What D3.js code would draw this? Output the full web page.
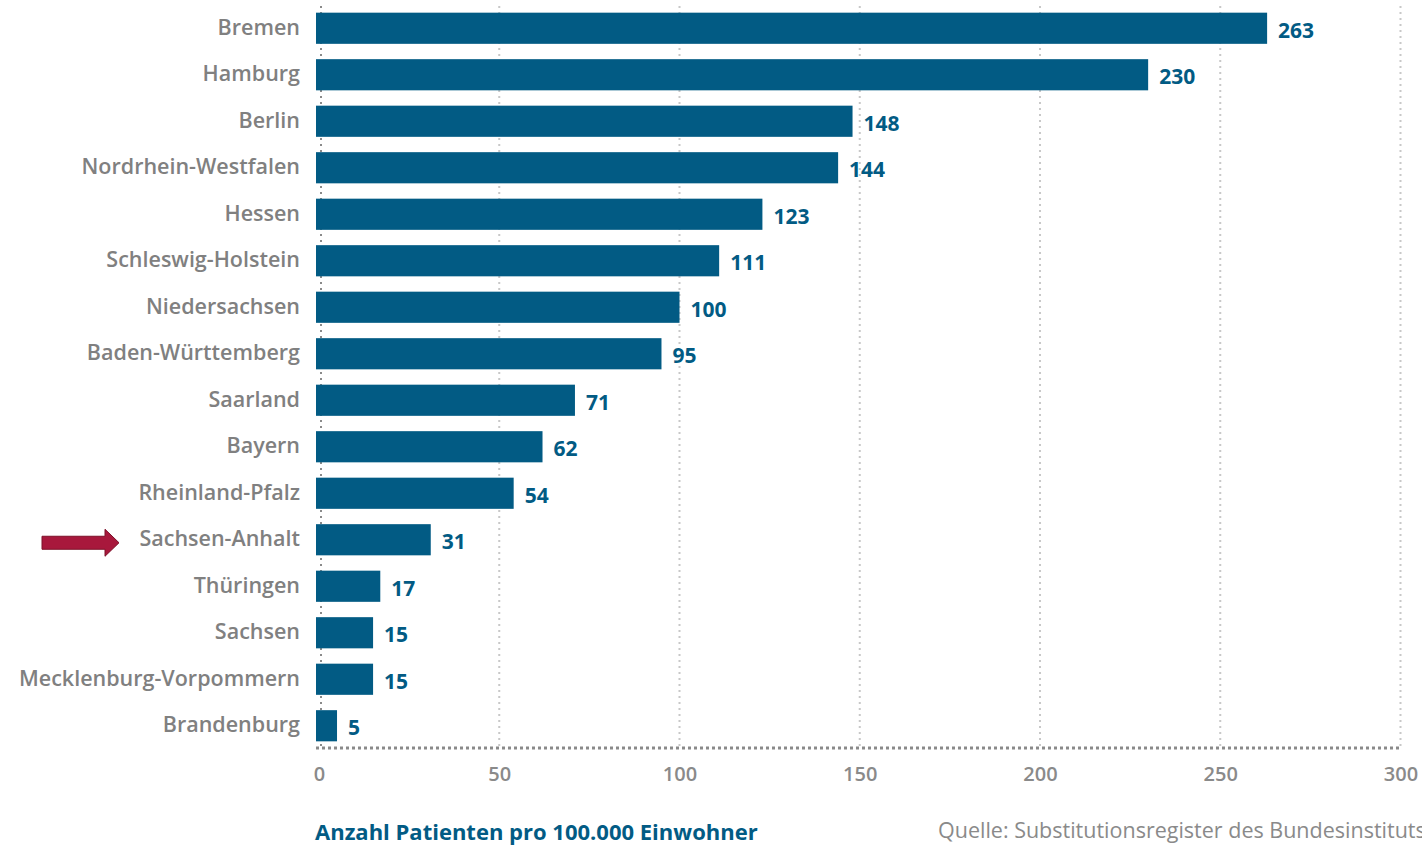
<!DOCTYPE html>
<html>
<head>
<meta charset="utf-8">
<style>
  body { margin: 0; background: #fff; }
  svg { display: block; }
  text { font-family: "Open Sans", sans-serif; }
</style>
<script src="https://d3js.org/d3.v7.min.js"></script>
</head>
<body>
<script>
const states = ["Bremen", "Hamburg", "Berlin", "Nordrhein-Westfalen", "Hessen", "Schleswig-Holstein",
  "Niedersachsen", "Baden-Württemberg", "Saarland", "Bayern", "Rheinland-Pfalz", "Sachsen-Anhalt",
  "Thüringen", "Sachsen", "Mecklenburg-Vorpommern", "Brandenburg"];
const patients = [263, 230, 148, 144, 123, 111, 100, 95, 71, 62, 54, 31, 17, 15, 15, 5];
const xTicks = [0, 50, 100, 150, 200, 250, 300];
const highlighted = "Sachsen-Anhalt";

const width = 1422, height = 846;
const blue = "#025b84";

const svg = d3.select("body").append("svg")
  .attr("width", width)
  .attr("height", height);

const x = d3.scaleLinear().domain([0, 300]).range([319, 1400.5]);
const y = d3.scaleBand().domain(states).range([5, 749]).paddingInner(0.33).paddingOuter(0.165);
const barStart = x(0) - 3;

// gridlines
svg.append("g")
  .selectAll("line")
  .data(xTicks.slice(1))
  .join("line")
    .attr("x1", d => x(d)).attr("x2", d => x(d))
    .attr("y1", 6).attr("y2", 748)
    .attr("stroke", "#c8c8c8")
    .attr("stroke-width", 2)
    .attr("stroke-dasharray", "2,4");

// left axis line (dotted)
svg.append("line")
  .attr("x1", x(0) + 2).attr("x2", x(0) + 2)
  .attr("y1", 6).attr("y2", 748)
  .attr("stroke", "#8a8a8a")
  .attr("stroke-width", 2)
  .attr("stroke-dasharray", "2,4");

// bottom axis
const xAxis = svg.append("g")
  .attr("transform", "translate(0,748)")
  .call(d3.axisBottom(x).tickValues(xTicks).tickSize(0).tickPadding(19));
xAxis.select(".domain")
  .attr("d", `M${barStart},0H${x(300)}`)
  .attr("stroke", "#8a8a8a")
  .attr("stroke-width", 3)
  .attr("stroke-dasharray", "3,3");
xAxis.selectAll("text")
  .attr("fill", "#8a8a8a")
  .attr("font-size", 20)
  .attr("font-weight", 600)
  .attr("font-family", "'Open Sans', sans-serif");

// bars
svg.append("g")
  .selectAll("rect")
  .data(states)
  .join("rect")
    .attr("x", barStart)
    .attr("y", d => y(d))
    .attr("width", (d, i) => x(patients[i]) - barStart)
    .attr("height", y.bandwidth())
    .attr("fill", blue);

// value labels
svg.append("g")
  .selectAll("text")
  .data(states)
  .join("text")
    .attr("x", (d, i) => x(patients[i]) + 11)
    .attr("y", d => y(d) + y.bandwidth() / 2 + 2)
    .attr("dy", "0.35em")
    .attr("fill", blue)
    .attr("font-size", 21)
    .attr("font-weight", 700)
    .text((d, i) => patients[i]);

// category labels
svg.append("g")
  .selectAll("text")
  .data(states)
  .join("text")
    .attr("x", 300)
    .attr("y", d => y(d) + y.bandwidth() / 2 - 1)
    .attr("dy", "0.35em")
    .attr("text-anchor", "end")
    .attr("fill", "#808080")
    .attr("font-size", 21.5)
    .attr("font-weight", 600)
    .text(d => d);

// highlight arrow
const ay = y(highlighted) + y.bandwidth() / 2 + 3;
svg.append("path")
  .attr("d", `M42,${ay - 6.5} L105,${ay - 6.5} L105,${ay - 13.5} L119,${ay} L105,${ay + 13.5} L105,${ay + 6.5} L42,${ay + 6.5} Z`)
  .attr("fill", "#a8183c")
  .attr("stroke", "#7d1029")
  .attr("stroke-width", 1);

// footer
svg.append("text")
  .attr("x", 315).attr("y", 840)
  .attr("fill", blue)
  .attr("font-size", 22)
  .attr("font-weight", 700)
  .text("Anzahl Patienten pro 100.000 Einwohner");

svg.append("text")
  .attr("x", 938).attr("y", 838)
  .attr("fill", "#8a8a8a")
  .attr("font-size", 21.5)
  .text("Quelle: Substitutionsregister des Bundesinstituts für Arzneimittel und Medizinprodukte");
</script>
</body>
</html>
